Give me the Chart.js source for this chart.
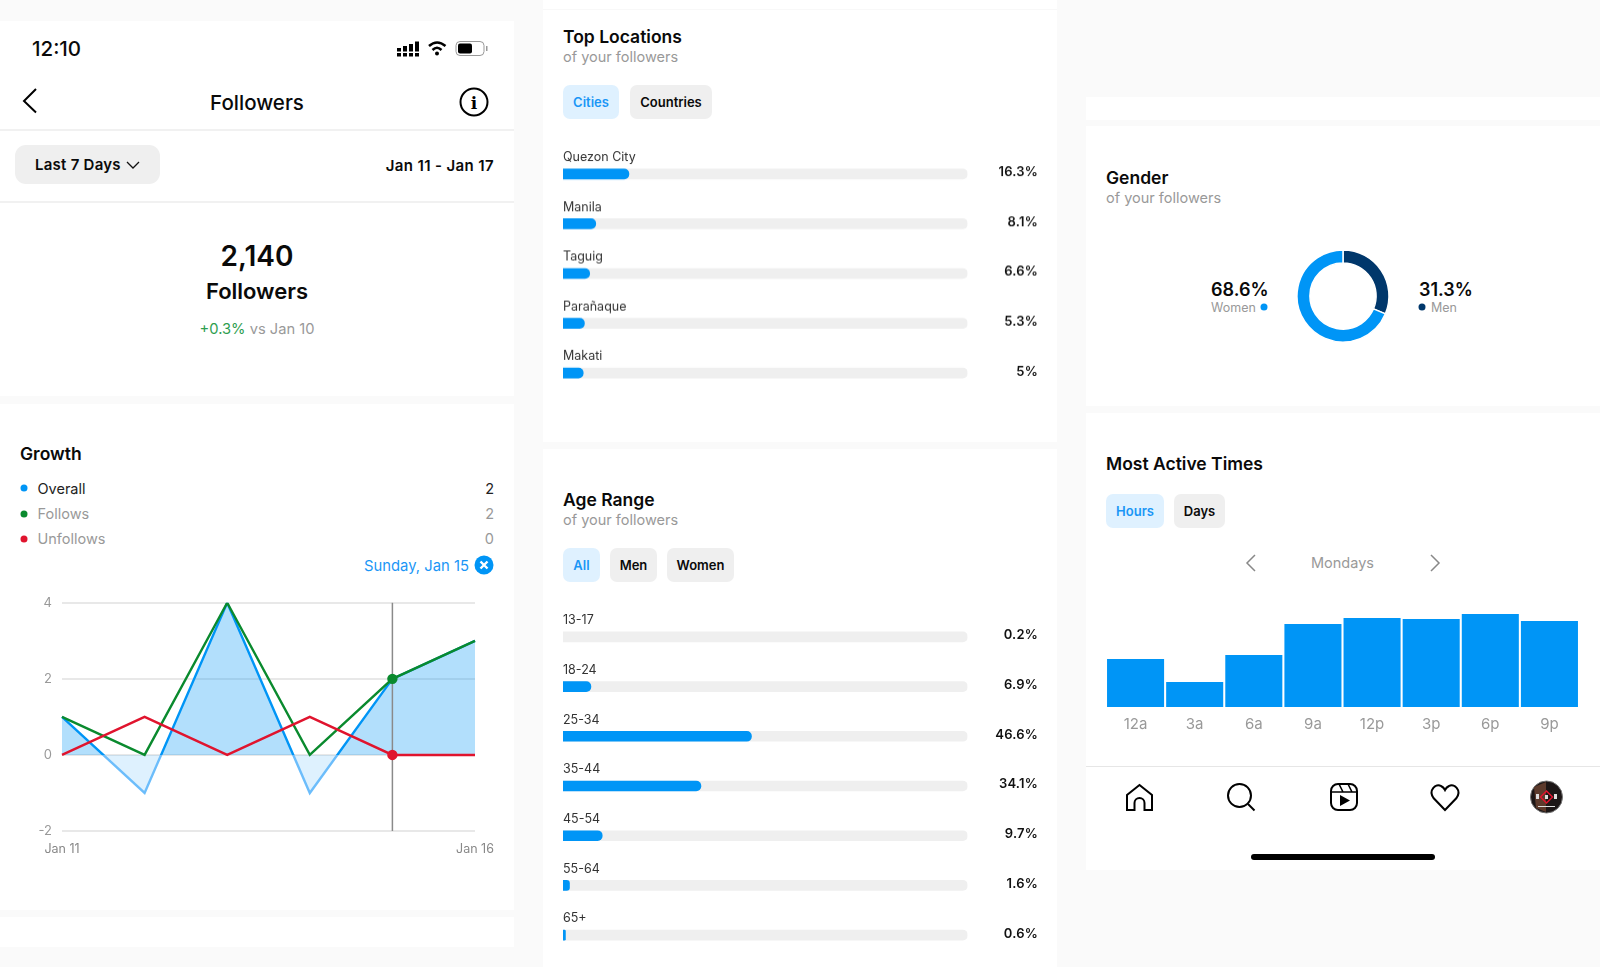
<!DOCTYPE html>
<html>
<head>
<meta charset="utf-8">
<title>Followers</title>
<script src="https://cdn.jsdelivr.net/npm/chart.js@4"></script>
<style>
  html, body { margin: 0; padding: 0; background: #fafafa; }
  body { position: relative; width: 1600px; height: 967px; overflow: hidden; font-family: Inter, "Noto Sans", sans-serif; color: #0a0a0a; }
  .panel { position: absolute; background: #fff; }
  .rule { position: absolute; background: #f1f1f1; }
  .t { position: absolute; white-space: nowrap; line-height: 1; transform: translateY(-50%); }
  .c { transform: translate(-50%, -50%); }
  .r { transform: translate(-100%, -50%); }
  .title { font-size: 17.5px; font-weight: 600; }
  .sub { font-size: 14.5px; color: #999; }
  .tab { position: absolute; height: 34px; line-height: 34px; border-radius: 7px; background: #efefef; font-size: 13px; font-weight: 600; text-align: center; }
  .tab.on { background: #dff1ff; color: #1a96f6; }
  .dot { position: absolute; width: 7px; height: 7px; border-radius: 50%; transform: translate(-50%, -50%); }
  canvas { position: absolute; }
  svg { position: absolute; overflow: visible; }
</style>
</head>
<body>
<div class="panel" style="left:0;top:21px;width:514px;height:375px"></div>
<div class="panel" style="left:0;top:404px;width:514px;height:506px"></div>
<div class="panel" style="left:0;top:917px;width:514px;height:30px"></div>
<div class="panel" style="left:543px;top:0;width:514px;height:442px"></div>
<div class="panel" style="left:543px;top:449px;width:514px;height:518px"></div>
<div class="panel" style="left:1086px;top:97px;width:514px;height:23px"></div>
<div class="panel" style="left:1086px;top:126px;width:514px;height:280px"></div>
<div class="panel" style="left:1086px;top:413px;width:514px;height:457px"></div>
<div class="rule" style="left:543px;top:9px;width:514px;height:1px;background:#f8f8f8"></div>
<div class="rule" style="left:0;top:129px;width:514px;height:2px"></div>
<div class="rule" style="left:0;top:201px;width:514px;height:2px"></div>
<div class="rule" style="left:1086px;top:766px;width:514px;height:1px;background:#e6e6e6"></div>

<!-- status bar and header -->
<div style="position:absolute;left:15px;top:145px;width:145px;height:39px;border-radius:11px;background:#efefef"></div>
<div class="t" style="left:32px;top:49px;font-size:20.5px;font-weight:500">12:10</div>
<svg style="left:0;top:0" width="514" height="130">
  <g fill="#000">
    <rect x="397" y="48" width="4" height="3.5"/><rect x="403" y="46" width="4" height="5.5"/><rect x="409" y="44" width="4" height="7.5"/><rect x="415" y="41.500" width="4" height="10"/>
    <rect x="397" y="53" width="4" height="3.500"/><rect x="403" y="53" width="4" height="3.500"/><rect x="409" y="53" width="4" height="3.500"/><rect x="415" y="53" width="4" height="3.500"/>
    <circle cx="437" cy="53.500" r="2"/>
  </g>
  <g fill="none" stroke="#000" stroke-width="2.500">
    <path d="M429 46 Q437 39 445.500 46"/><path d="M432.500 50 Q437 45.500 441.500 50"/>
  </g>
  <rect x="456" y="41.500" width="28" height="14" rx="4" fill="none" stroke="#999" stroke-width="1"/>
  <rect x="458" y="43.500" width="14" height="10" rx="2" fill="#000"/>
  <rect x="486" y="46" width="1.500" height="5" fill="#999"/>
  <path d="M36 89 L24 101 L36 112.500" fill="none" stroke="#000" stroke-width="2"/>
  <circle cx="474" cy="102" r="13.500" fill="none" stroke="#000" stroke-width="2"/>
  <text x="474" y="108.500" text-anchor="middle" font-family="DejaVu Serif" font-weight="700" font-size="17" fill="#000">i</text>
  <path d="M127 162 L133 168 L139 162" fill="none" stroke="#111" stroke-width="1.300"/>
</svg>
<div class="t c" style="left:257px;top:103px;font-size:20.500px;font-weight:500">Followers</div>
<div class="t" style="left:35px;top:164px;font-size:15px;font-weight:600;letter-spacing:.25px">Last 7 Days</div>
<div class="t r" style="left:494px;top:165px;font-size:15px;font-weight:600;letter-spacing:.37px">Jan 11 - Jan 17</div>
<div class="t c" style="left:257px;top:256px;font-size:28px;font-weight:600">2,140</div>
<div class="t c" style="left:257px;top:291px;font-size:22px;font-weight:600">Followers</div>
<div class="t c" style="left:257px;top:329px;font-size:14.700px;color:#999"><span style="color:#2e9e4f">+0.3%</span> vs Jan 10</div>

<!-- growth -->
<div class="t title" style="left:20px;top:454px">Growth</div>
<div class="dot" style="left:23.500px;top:488px;background:#0095f6"></div>
<div class="dot" style="left:23.500px;top:514px;background:#0a8a2e"></div>
<div class="dot" style="left:23.500px;top:539px;background:#e0142e"></div>
<div class="t" style="left:37.500px;top:489px;font-size:14.500px;color:#222">Overall</div>
<div class="t" style="left:37.500px;top:514px;font-size:14.500px;color:#999">Follows</div>
<div class="t" style="left:37.500px;top:539px;font-size:14.500px;color:#999">Unfollows</div>
<div class="t r" id="overallNow" style="left:494px;top:489px;font-size:14.500px;color:#222"></div>
<div class="t r" id="followsNow" style="left:494px;top:514px;font-size:14.500px;color:#999"></div>
<div class="t r" id="unfollowsNow" style="left:494px;top:539px;font-size:14.500px;color:#999"></div>
<div class="t" style="left:364px;top:566px;font-size:14.800px;color:#1a96f6">Sunday, Jan 15</div>
<svg style="left:0;top:0" width="514" height="600">
  <circle cx="484" cy="565" r="9.500" fill="#0095f6"/>
  <path d="M480.500 561.500 L487.500 568.500 M487.500 561.500 L480.500 568.500" stroke="#fff" stroke-width="2.400" fill="none"/>
</svg>
<canvas id="growthChart" style="left:30px;top:585px"></canvas>

<!-- top locations -->
<div class="t title" style="left:563px;top:37px">Top Locations</div>
<div class="t sub" style="left:563px;top:57px">of your followers</div>
<div class="tab on" style="left:563px;top:85px;width:56px">Cities</div>
<div class="tab" style="left:630px;top:85px;width:82px">Countries</div>
<canvas id="locationChart" style="left:563px;top:149px"></canvas>

<!-- age range -->
<div class="t title" style="left:563px;top:499.500px">Age Range</div>
<div class="t sub" style="left:563px;top:519.500px">of your followers</div>
<div class="tab on" style="left:563px;top:548px;width:37px">All</div>
<div class="tab" style="left:610px;top:548px;width:47px">Men</div>
<div class="tab" style="left:667px;top:548px;width:67px">Women</div>
<canvas id="ageChart" style="left:563px;top:612px"></canvas>

<!-- gender -->
<div class="t title" style="left:1106px;top:178px">Gender</div>
<div class="t sub" style="left:1106px;top:198px">of your followers</div>
<canvas id="genderChart" style="left:1295px;top:248px"></canvas>
<div class="t" style="left:1211px;top:289.500px;font-size:18px;font-weight:600">68.6%</div>
<div class="t" style="left:1211px;top:308px;font-size:12.500px;color:#999">Women</div>
<div class="dot" style="left:1264px;top:307px;background:#0095f6"></div>
<div class="t" style="left:1419px;top:289.500px;font-size:18px;font-weight:600">31.3%</div>
<div class="t" style="left:1431px;top:308px;font-size:12.500px;color:#999">Men</div>
<div class="dot" style="left:1422px;top:307px;background:#00376b"></div>

<!-- most active times -->
<div class="t title" style="left:1106px;top:463.500px">Most Active Times</div>
<div class="tab on" style="left:1106px;top:494px;width:58px">Hours</div>
<div class="tab" style="left:1174px;top:494px;width:51px">Days</div>
<div class="t c" style="left:1342.500px;top:563px;font-size:14.500px;color:#999">Mondays</div>
<svg style="left:0;top:0" width="1600" height="900">
  <path d="M1255 555 L1247 563 L1255 571" fill="none" stroke="#888" stroke-width="1.500"/>
  <path d="M1431 555 L1439 563 L1431 571" fill="none" stroke="#888" stroke-width="1.500"/>

  <!-- tab bar -->
  <g fill="none" stroke="#000" stroke-width="2">
    <path d="M1127 810 V795 L1139.500 785 L1152 795 V810 H1144.500 V803 A5 5 0 0 0 1134.500 803 V810 Z"/>
    <circle cx="1239.500" cy="795.500" r="11.500"/><path d="M1248 804 L1254.500 810.500"/>
    <rect x="1331" y="784" width="26" height="26" rx="7"/><path d="M1331 792 H1357 M1339 784 L1343 792 M1348 784 L1352 792" stroke-width="1.600"/>
    <path d="M1445 810 L1433.500 798 C1428 790 1436 783 1441 786 C1443 787 1444.500 789 1445 790 C1445.500 789 1447 787 1449 786 C1454 783 1462 790 1456.500 798 Z"/>
  </g>
  <path d="M1340 795 L1350 800.500 L1340 806 Z" fill="#000"/>
  <circle cx="1546.500" cy="797" r="16" fill="#1c1616" stroke="#777" stroke-width="1"/>
  <path d="M1534 787 L1546 782 L1546 812 L1536 808 Z" fill="#5c3a2c"/>
  <path d="M1546.500 791 L1552.500 797 L1546.500 803 L1540.500 797 Z" fill="none" stroke="#e0142e" stroke-width="1.500"/>
  <path d="M1545 795 H1548 V799 H1545 Z M1536 794 H1539 V799 H1536 Z M1554 794 H1557 V799 H1554 Z M1538 806 H1555 V807 H1538 Z" fill="#ddd"/>
</svg>
<canvas id="activeChart" style="left:1105.500px;top:607px"></canvas>
<div style="position:absolute;left:1251px;top:854px;width:184px;height:6px;border-radius:3px;background:#000"></div>

<script>
Chart.defaults.font.family = 'Inter, "Noto Sans", sans-serif';
Chart.defaults.animation = false;
Chart.defaults.responsive = false;
Chart.defaults.plugins.legend.display = false;
Chart.defaults.plugins.tooltip.enabled = false;

// Growth
const growthDays = ['Jan 11', 'Jan 12', 'Jan 13', 'Jan 14', 'Jan 15', 'Jan 16'];
const overallValues = [1, -1, 4, -1, 2, 3];
const followsValues = [1, 0, 4, 0, 2, 3];
const unfollowsValues = [0, 1, 0, 1, 0, 0];
const selectedDay = 4;
const growthTicks = [-2, 0, 2, 4];

// Top locations
const cities = ['Quezon City', 'Manila', 'Taguig', 'Parañaque', 'Makati'];
const cityShares = [16.3, 8.1, 6.6, 5.3, 5];

// Age range
const ageRanges = ['13-17', '18-24', '25-34', '35-44', '45-54', '55-64', '65+'];
const ageShares = [0.2, 6.9, 46.6, 34.1, 9.7, 1.6, 0.6];

// Gender
const genders = ['Men', 'Women'];
const genderShares = [31.3, 68.6];

// Most active times (Mondays)
const hours = ['12a', '3a', '6a', '9a', '12p', '3p', '6p', '9p'];
const hourActivity = [48, 25, 52, 83, 89, 88, 93, 86];

const BLUE = '#0095f6';
const NAVY = '#00376b';

function size(id, w, h) {
  const el = document.getElementById(id);
  el.width = w;
  el.height = h;
  el.style.width = w + 'px';
  el.style.height = h + 'px';
  return el;
}

document.getElementById('overallNow').textContent = overallValues[selectedDay];
document.getElementById('followsNow').textContent = followsValues[selectedDay];
document.getElementById('unfollowsNow').textContent = unfollowsValues[selectedDay];

// blue line goes paler under zero
function overallLine(ctx) {
  const chart = ctx.chart;
  if (!chart.chartArea) return BLUE;
  const { top, bottom } = chart.chartArea;
  const stop = (chart.scales.y.getPixelForValue(0) - top) / (bottom - top);
  const g = chart.ctx.createLinearGradient(0, top, 0, bottom);
  g.addColorStop(0, BLUE);
  g.addColorStop(stop, BLUE);
  g.addColorStop(stop, '#6cbdfb');
  g.addColorStop(1, '#6cbdfb');
  return g;
}

const selectedRadius = ctx => (ctx.dataIndex === selectedDay ? 4 : 0);

const cursorLine = {
  id: 'cursorLine',
  afterDatasetDraw(chart, args) {
    if (args.index !== 2) return; // straight after the Overall series
    const x = chart.scales.x.getPixelForValue(selectedDay);
    const c = chart.ctx;
    c.save();
    c.strokeStyle = '#8a8a8a';
    c.lineWidth = 1.5;
    c.beginPath();
    c.moveTo(x, chart.chartArea.top);
    c.lineTo(x, chart.chartArea.bottom);
    c.stroke();
    c.restore();
  }
};

new Chart(size('growthChart', 480, 275), {
  type: 'line',
  data: {
    labels: growthDays,
    datasets: [
      { label: 'Unfollows', data: unfollowsValues, borderColor: '#e0142e', backgroundColor: '#e0142e', borderWidth: 2.4, tension: 0, pointRadius: selectedRadius, fill: false },
      { label: 'Follows', data: followsValues, borderColor: '#0a8a2e', backgroundColor: '#0a8a2e', borderWidth: 2.4, tension: 0, pointRadius: selectedRadius, fill: false },
      {
        label: 'Overall', data: overallValues, borderColor: overallLine, borderWidth: 2.4, tension: 0, pointRadius: 0,
        fill: { target: { value: 0 }, above: 'rgba(0,149,246,0.30)', below: 'rgba(0,149,246,0.13)' }
      }
    ]
  },
  options: {
    layout: { padding: { top: 13, right: 35 } },
    scales: {
      x: {
        grid: { display: false },
        border: { display: false },
        afterFit: s => { s.height = 29; },
        ticks: {
          autoSkip: false, maxRotation: 0, padding: 3, color: '#888', font: { size: 12.5 },
          callback: (v, i) => (i === 0 || i === growthDays.length - 1 ? growthDays[i] : '')
        }
      },
      y: {
        min: -2, max: 4,
        afterBuildTicks: s => { s.ticks = growthTicks.map(value => ({ value })); },
        afterFit: s => { s.width = 32; },
        grid: { color: '#e8e8e8', lineWidth: 2, drawTicks: false },
        border: { display: false },
        ticks: { padding: 10, color: '#999', font: { size: 13 } }
      }
    }
  },
  plugins: [cursorLine]
});

// label over the bar, percent on its right
const rowLabels = {
  id: 'rowLabels',
  afterDatasetsDraw(chart) {
    const c = chart.ctx;
    const bars = chart.getDatasetMeta(0).data;
    const shares = chart.data.datasets[0].data;
    c.save();
    c.textBaseline = 'middle';
    bars.forEach((bar, i) => {
      c.fillStyle = '#333';
      c.textAlign = 'left';
      c.font = '400 12.5px Inter';
      c.letterSpacing = '0px';
      c.fillText(chart.data.labels[i], chart.chartArea.left, bar.y - 16.5);
      c.fillStyle = '#111';
      c.textAlign = 'right';
      c.font = '600 13px Inter';
      c.letterSpacing = '0.2px';
      c.fillText(shares[i] + '%', chart.width, bar.y - 1.5);
    });
    c.restore();
  }
};

// anything under a pixel wide does not show in the app
const barFill = ctx => (ctx.raw < 0.3 ? 'transparent' : BLUE);

function shareBars(id, labels, shares, height) {
  return new Chart(size(id, 475, height), {
    type: 'bar',
    data: {
      labels: labels,
      datasets: [
        { data: shares, backgroundColor: barFill, barThickness: 10, grouped: false, order: 1, borderSkipped: false, borderRadius: { topLeft: 0, bottomLeft: 0, topRight: 5, bottomRight: 5 } },
        { data: labels.map(() => 100), backgroundColor: '#efefef', barThickness: 10, grouped: false, order: 2, borderSkipped: false, borderRadius: { topLeft: 0, bottomLeft: 0, topRight: 5, bottomRight: 5 } }
      ]
    },
    options: {
      indexAxis: 'y',
      layout: { padding: { right: 70.5 } },
      scales: {
        x: { display: false, min: 0, max: 100 },
        y: { display: false }
      }
    },
    plugins: [rowLabels]
  });
}

shareBars('locationChart', cities, cityShares, 248.5);
shareBars('ageChart', ageRanges, ageShares, 348);

new Chart(size('genderChart', 96, 96), {
  type: 'doughnut',
  data: {
    labels: genders,
    datasets: [{ data: genderShares, backgroundColor: [NAVY, BLUE], borderColor: '#fff', borderWidth: 1.5 }]
  },
  options: { radius: 46, cutout: 34 }
});

new Chart(size('activeChart', 473, 130), {
  type: 'bar',
  data: {
    labels: hours,
    datasets: [{ data: hourActivity, backgroundColor: BLUE, categoryPercentage: 1, barPercentage: 0.965 }]
  },
  options: {
    scales: {
      x: {
        grid: { display: false },
        border: { display: false },
        afterFit: s => { s.height = 30; },
        ticks: { padding: 0, color: '#999', font: { size: 15 } }
      },
      y: { display: false, min: 0, max: 100 }
    }
  }
});
</script>
</body>
</html>
